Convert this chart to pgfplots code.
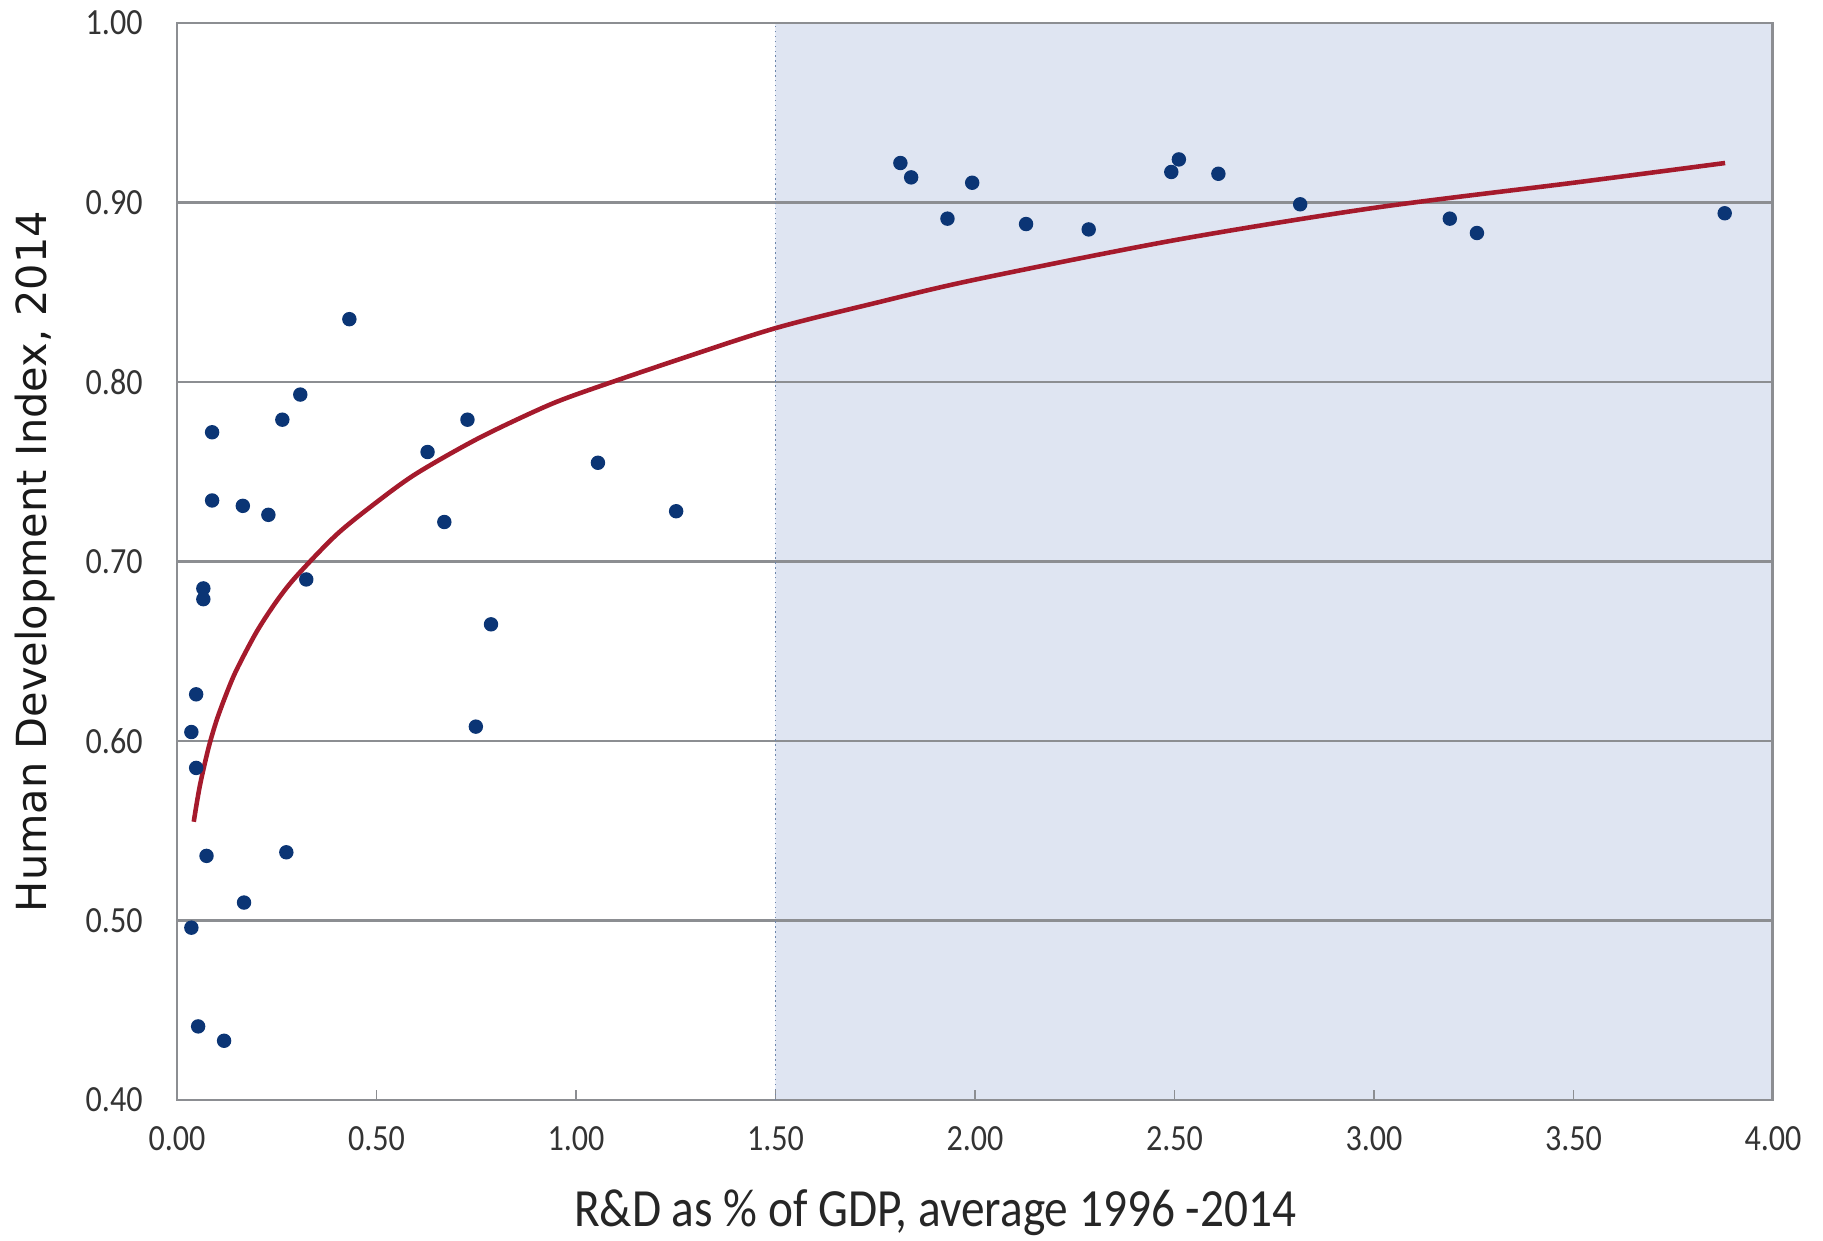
\documentclass[border=0pt]{standalone}
\usepackage{fontspec}
\setmainfont{Carlito}
\newfontfamily\ylabfont{DejaVu Sans}
\usepackage{graphicx}
\usepackage{pgfplots}
\pgfplotsset{compat=1.18}

\definecolor{shade}{HTML}{DFE5F2}
\definecolor{dotblue}{HTML}{0B3575}
\definecolor{trend}{HTML}{A51A2C}
\definecolor{gridgray}{HTML}{8C8E92}

\pgfplotstableread{
x y
0.036 0.605
0.036 0.496
0.048 0.626
0.048 0.585
0.053 0.441
0.066 0.685
0.066 0.679
0.074 0.536
0.088 0.772
0.088 0.734
0.118 0.433
0.165 0.731
0.168 0.510
0.229 0.726
0.264 0.779
0.274 0.538
0.309 0.793
0.324 0.690
0.432 0.835
0.628 0.761
0.670 0.722
0.728 0.779
0.749 0.608
0.787 0.665
1.055 0.755
1.251 0.728
1.813 0.922
1.840 0.914
1.931 0.891
1.993 0.911
2.128 0.888
2.285 0.885
2.492 0.917
2.511 0.924
2.610 0.916
2.815 0.899
3.190 0.891
3.258 0.883
3.879 0.894
}\hdi

% trend line
\pgfplotstableread{
x y
0.042 0.555
0.05 0.566
0.06 0.578
0.08 0.597
0.10 0.612
0.125 0.627
0.15 0.640
0.20 0.661
0.25 0.678
0.30 0.692
0.40 0.715
0.50 0.733
0.60 0.749
0.75 0.768
0.90 0.784
1.00 0.793
1.25 0.812
1.50 0.830
1.75 0.844
2.00 0.857
2.50 0.879
3.00 0.897
3.50 0.911
3.88 0.922
}\trendline

\begin{document}
\begin{tikzpicture}
\begin{axis}[
  set layers,
  at={(1.77cm,1.40cm)}, anchor=south west,
  scale only axis,
  width=15.96cm, height=10.77cm,
  xmin=0, xmax=4, ymin=0.4, ymax=1.0,
  xtick={0,0.5,...,4}, ytick={0.4,0.5,...,1.0},
  /pgf/number format/assume math mode=true,
  /pgf/number format/.cd, fixed, fixed zerofill, precision=2, /pgfplots/.cd,
  xticklabel={\scalebox{0.87}[1]{\pgfmathprintnumber{\tick}}},
  yticklabel={\scalebox{0.87}[1]{\pgfmathprintnumber{\tick}}},
  tick label style={font=\fontsize{10.5}{12}\selectfont, text=black!80},
  xticklabel style={yshift=-0.14cm},
  yticklabel style={xshift=-0.22cm},
  tick align=inside,
  xtick pos=bottom,
  major x tick style={gridgray, line width=0.5pt},
  major tick length=0.1cm,
  ytick style={draw=none},
  axis line style={gridgray, line width=0.85pt},
  ymajorgrids,
  major grid style={gridgray, line width=0.85pt},
  xlabel={\scalebox{0.88}[1]{R\&D as \% of GDP, average 1996 -2014}},
  ylabel={\ylabfont Human Development Index, 2014},
  xlabel style={font=\fontsize{15.3}{18}\selectfont, text=black!85,
    at={(axis description cs:0.475,-0.105)}, anchor=center},
  ylabel style={font=\fontsize{11.8}{14}\selectfont, text=black!90,
    at={(axis description cs:-0.089,0.5)}, anchor=center, rotate=0},
]
\addplot[on layer=axis background, fill=shade, draw=none]
  coordinates {(1.5,0.4) (4,0.4) (4,1.0) (1.5,1.0)} \closedcycle;
\addplot[draw=dotblue!60, line width=0.4pt, densely dotted]
  coordinates {(1.5,0.4) (1.5,1.0)};
\addplot[only marks, mark=*, mark size=1.85pt, color=dotblue] table {\hdi};
\addplot[trend, line width=1.3pt, smooth] table {\trendline};
\end{axis}
\pgfresetboundingbox
\useasboundingbox (0,0) rectangle (18.23,12.40);
\end{tikzpicture}
\end{document}
